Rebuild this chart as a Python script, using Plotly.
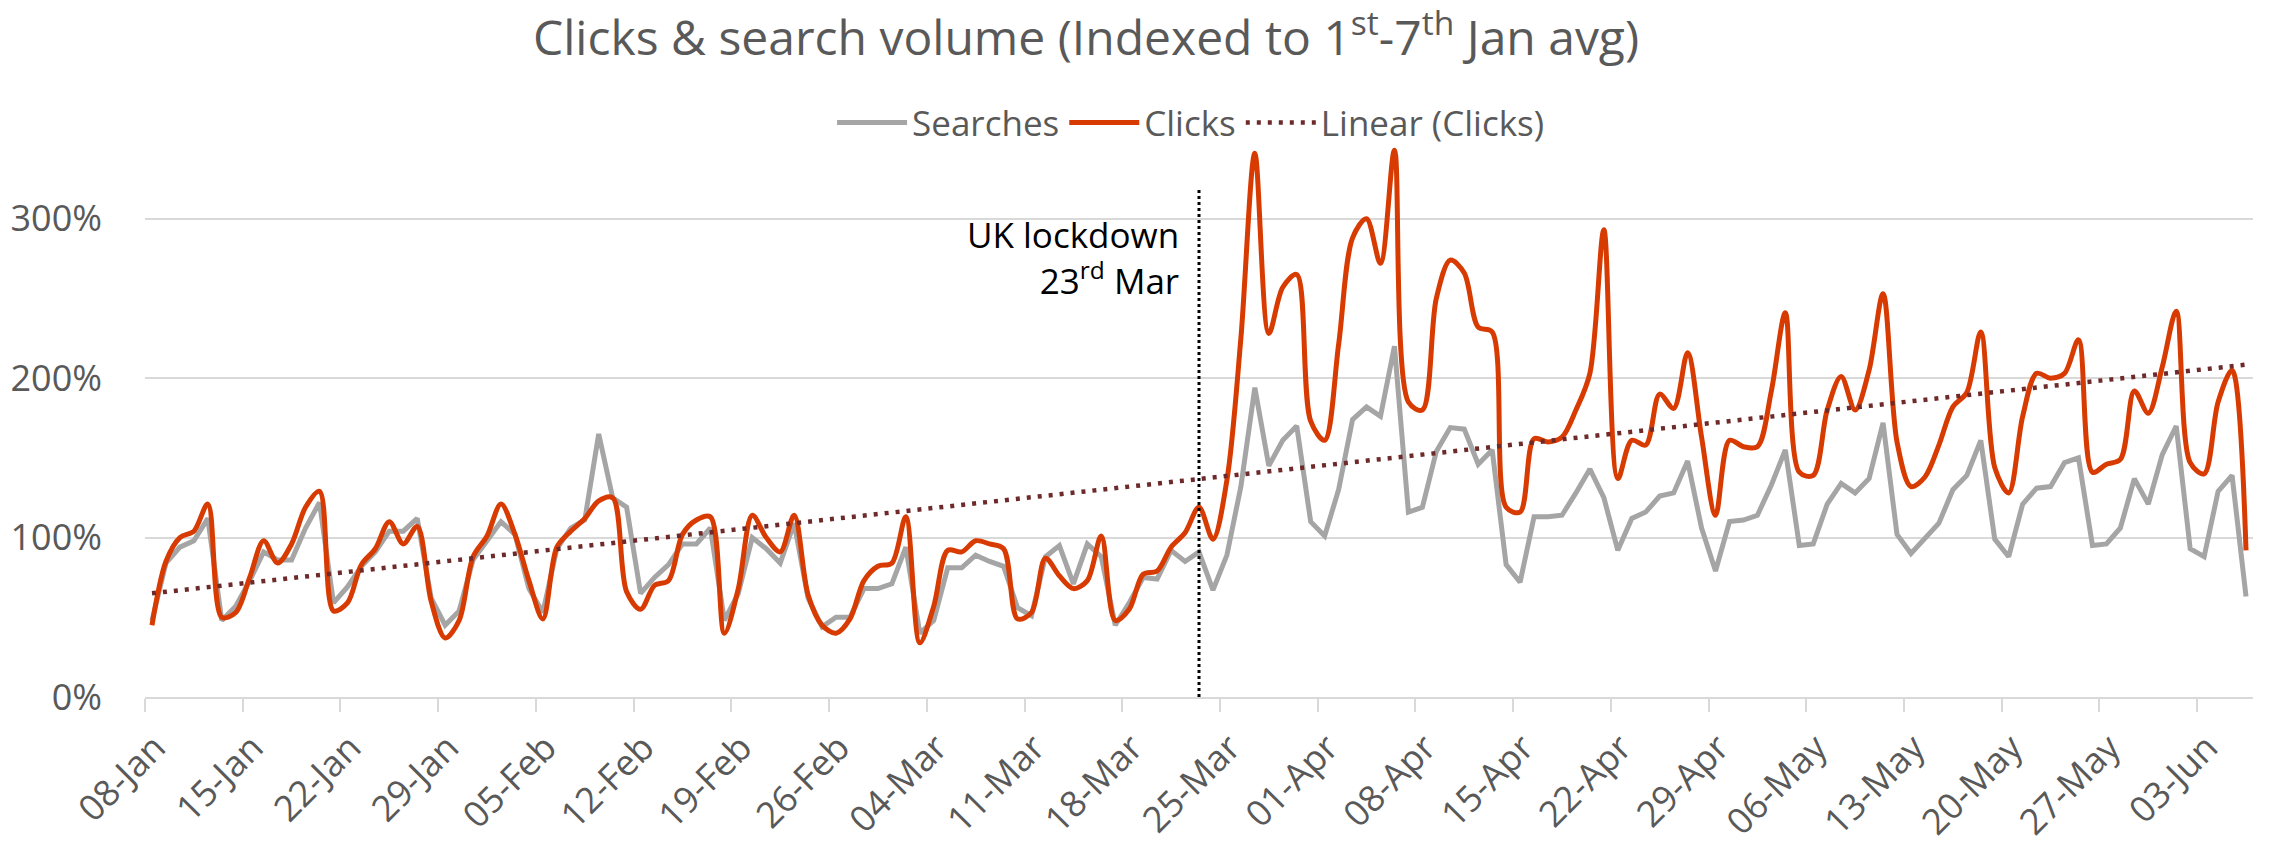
import numpy as np
import pandas as pd
import plotly.graph_objects as go

# Daily series, 08-Jan to 06-Jun 2020, indexed to the 1st-7th Jan average (1.0 = 100%)
start_date = "2020-01-08"

searches = [
    0.48, 0.84, 0.94, 0.98, 1.12, 0.48, 0.57,
    0.73, 0.91, 0.86, 0.86, 1.06, 1.22, 0.59,
    0.69, 0.82, 0.91, 1.04, 1.04, 1.12, 0.62,
    0.45, 0.54, 0.86, 0.98, 1.10, 1.02, 0.68,
    0.53, 0.93, 1.06, 1.11, 1.65, 1.25, 1.19,
    0.65, 0.75, 0.83, 0.96, 0.96, 1.06, 0.48,
    0.65, 1.00, 0.93, 0.84, 1.09, 0.62, 0.44,
    0.50, 0.50, 0.68, 0.68, 0.71, 0.94, 0.40,
    0.48, 0.81, 0.81, 0.89, 0.85, 0.82, 0.56,
    0.51, 0.88, 0.95, 0.71, 0.96, 0.88, 0.45,
    0.59, 0.75, 0.74, 0.92, 0.85, 0.91, 0.67,
    0.89, 1.32, 1.94, 1.45, 1.61, 1.70, 1.10,
    1.01, 1.30, 1.74, 1.82, 1.76, 2.20, 1.16,
    1.19, 1.54, 1.69, 1.68, 1.46, 1.55, 0.83,
    0.72, 1.13, 1.13, 1.14, 1.28, 1.43, 1.25,
    0.92, 1.12, 1.16, 1.26, 1.28, 1.48, 1.06,
    0.79, 1.10, 1.11, 1.14, 1.33, 1.55, 0.95,
    0.96, 1.21, 1.34, 1.28, 1.37, 1.72, 1.02,
    0.90, 1.00, 1.09, 1.30, 1.39, 1.61, 0.99,
    0.88, 1.21, 1.31, 1.32, 1.47, 1.50, 0.95,
    0.96, 1.06, 1.37, 1.21, 1.52, 1.70, 0.93,
    0.88, 1.29, 1.39, 0.63,
]

clicks = [
    0.45, 0.85, 1.00, 1.04, 1.21, 0.50, 0.53,
    0.75, 0.98, 0.84, 0.96, 1.19, 1.29, 0.54,
    0.59, 0.83, 0.93, 1.10, 0.96, 1.07, 0.60,
    0.37, 0.48, 0.88, 1.01, 1.21, 1.02, 0.73,
    0.49, 0.94, 1.04, 1.12, 1.23, 1.25, 0.66,
    0.55, 0.70, 0.73, 1.02, 1.11, 1.13, 0.40,
    0.68, 1.14, 1.00, 0.91, 1.14, 0.64, 0.45,
    0.40, 0.49, 0.73, 0.82, 0.84, 1.13, 0.34,
    0.57, 0.92, 0.91, 0.98, 0.96, 0.93, 0.49,
    0.53, 0.87, 0.76, 0.68, 0.73, 1.01, 0.48,
    0.55, 0.77, 0.79, 0.94, 1.03, 1.19, 0.99,
    1.36, 2.25, 3.41, 2.28, 2.57, 2.65, 1.73,
    1.61, 2.21, 2.88, 3.00, 2.72, 3.43, 1.85,
    1.80, 2.50, 2.74, 2.66, 2.32, 2.29, 1.19,
    1.16, 1.62, 1.60, 1.63, 1.80, 2.03, 2.93,
    1.37, 1.61, 1.58, 1.90, 1.81, 2.16, 1.63,
    1.14, 1.61, 1.57, 1.57, 1.92, 2.41, 1.41,
    1.39, 1.80, 2.01, 1.80, 2.05, 2.53, 1.60,
    1.32, 1.38, 1.58, 1.82, 1.91, 2.29, 1.44,
    1.28, 1.76, 2.03, 2.00, 2.03, 2.24, 1.41,
    1.46, 1.49, 1.92, 1.78, 2.07, 2.42, 1.47,
    1.40, 1.85, 2.05, 0.92,
]

tick_labels = [
    "08-Jan", "15-Jan", "22-Jan", "29-Jan", "05-Feb", "12-Feb", "19-Feb",
    "26-Feb", "04-Mar", "11-Mar", "18-Mar", "25-Mar", "01-Apr", "08-Apr",
    "15-Apr", "22-Apr", "29-Apr", "06-May", "13-May", "20-May", "27-May",
    "03-Jun",
]

lockdown_date = "2020-03-23"

dates = pd.date_range(start_date, periods=len(clicks), freq="D")
half_day = pd.Timedelta(hours=12)

# Least-squares linear trend of the clicks series
day_index = np.arange(len(clicks))
slope, intercept = np.polyfit(day_index, clicks, 1)
trend = intercept + slope * day_index

GREY = "#A5A5A5"
ORANGE = "#D83B01"
MAROON = "#6E2A2A"
TEXT = "#595959"
GRID = "#D9D9D9"
FONT = "Open Sans"

fig = go.Figure()
fig.add_trace(go.Scatter(
    x=dates, y=searches, name="Searches", mode="lines",
    line=dict(color=GREY, width=5),
))
fig.add_trace(go.Scatter(
    x=dates, y=clicks, name="Clicks", mode="lines",
    line=dict(color=ORANGE, width=5, shape="spline", smoothing=0.9),
))
fig.add_trace(go.Scatter(
    x=dates, y=trend, name="Linear (Clicks)", mode="lines",
    line=dict(color=MAROON, width=4.5, dash="4px,7px"),
))

# Lockdown marker
fig.add_shape(
    type="line", xref="x", yref="y",
    x0=lockdown_date, x1=lockdown_date, y0=0, y1=3.19,
    line=dict(color="black", width=3, dash="dot"),
)
fig.add_annotation(
    x=lockdown_date, y=3.06, xref="x", yref="y",
    text="UK lockdown<br>23<sup>rd</sup> Mar",
    showarrow=False, xanchor="right", yanchor="top", align="right",
    xshift=-18, font=dict(family=FONT, size=35, color="black"),
)

tick_vals = [d - half_day for d in dates[::7][:len(tick_labels)]]

fig.update_layout(
    width=2272, height=845,
    margin=dict(l=145, r=19, t=139, b=148, autoexpand=False),
    paper_bgcolor="white", plot_bgcolor="white",
    font=dict(family=FONT, color=TEXT),
    title=dict(
        text="Clicks & search volume (Indexed to 1<sup>st</sup>-7<sup>th</sup> Jan avg)",
        x=0.478, xanchor="center", xref="container",
        y=0.955, yanchor="middle", yref="container",
        font=dict(family=FONT, size=48, color=TEXT),
    ),
    showlegend=True,
    legend=dict(
        orientation="h", x=0.496, xanchor="center", y=1.029, yanchor="middle",
        font=dict(family=FONT, size=35, color=TEXT),
        itemwidth=70, bgcolor="rgba(0,0,0,0)",
    ),
    xaxis=dict(
        range=[dates[0] - half_day, dates[-1] + half_day],
        automargin=False,
        tickmode="array", tickvals=tick_vals, ticktext=tick_labels,
        tickangle=-45, tickfont=dict(family=FONT, size=36, color=TEXT),
        ticklabelshift=10,
        showgrid=False, zeroline=False,
        showline=True, linecolor=GRID, linewidth=2,
        ticks="outside", ticklen=13, tickcolor=GRID, tickwidth=2,
    ),
    yaxis=dict(
        range=[0, 3.5], automargin=False,
        tickmode="array", tickvals=[0, 1, 2, 3],
        tickformat=".0%", tickfont=dict(family=FONT, size=36, color=TEXT),
        showgrid=True, gridcolor=GRID, gridwidth=2,
        zeroline=False, showline=False, ticks="", ticklabelstandoff=42,
    ),
)

fig.write_html("out.html")
